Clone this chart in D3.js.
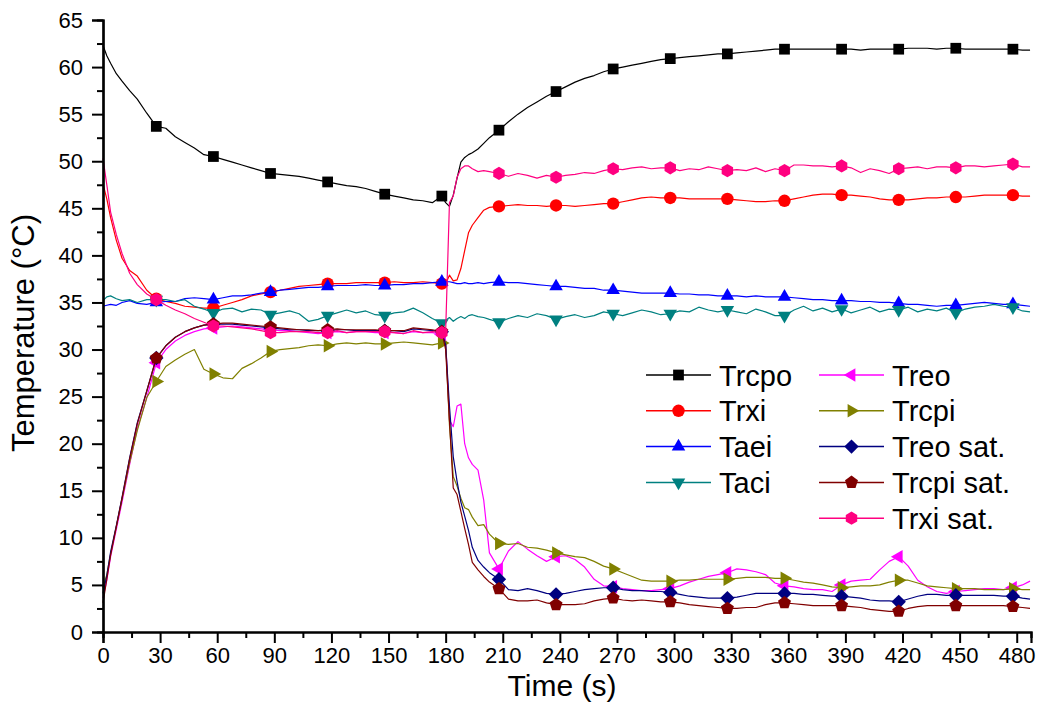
<!DOCTYPE html>
<html><head><meta charset="utf-8">
<script src="https://cdn.jsdelivr.net/npm/d3@7"></script>
<style>
body{margin:0;background:#fff}
svg{display:block}
text{font-family:"Liberation Sans",Arial,Helvetica,sans-serif;fill:#000}
</style>
</head><body>
<svg id="chart" width="1039" height="728"></svg>
<script>
// ---------------- data ----------------
const time = [
  0,2,4,7,10,14,18,23,28,
  33,38,43,48,53,58,63,68,73,78,83,88,93,98,103,108,113,118,123,128,133,138,143,148,153,158,163,168,173,178,
  180,182,184,186,188,190,192,194,197,200,203,
  208,213,218,223,228,233,238,243,248,253,258,263,268,273,278,283,288,293,298,303,
  308,313,318,323,328,333,338,343,348,353,358,363,368,373,378,383,388,393,398,403,
  408,413,418,423,428,433,438,443,448,453,458,463,468,473,478,
  483,487
];
const Trcpo = [
  62.3,61.2,60.4,59.3,58.5,57.5,56.6,55.1,53.7,
  53.5,52.6,52.0,51.4,50.7,50.5,50.2,49.9,49.6,49.3, 49.0,48.7,48.6,48.5,48.4,48.2,48.0,47.8,47.6,47.4, 47.3,47.1,46.8,46.5,46.3,46.1,45.9,45.8,45.6,46.3,
  45.6,45.2,46.4,48.2,49.9,50.4,50.7,50.9,51.3,51.9,52.5,
  53.3,54.2,55.0,55.7,56.3,56.9,57.4,57.9,58.4,58.8, 59.1,59.5,59.8,60.0,60.2,60.4,60.6,60.8,60.9,61.0,
  61.1,61.2,61.3,61.4,61.4,61.5,61.6,61.7,61.8,61.9, 61.9,61.9,61.9,61.9,61.9,61.9,61.9,61.9,61.8,61.9,
  61.9,61.9,61.9,62.0,62.0,62.0,61.9,62.0,62.0,61.9, 61.9,61.9,61.9,61.9,61.9,
  61.8,61.8
];
const Trxi = [
  47.6,46.0,44.0,41.6,39.7,38.4,37.8,36.3,35.4,
  35.1,34.9,34.6,34.5,34.4,34.4,34.7,35.0,35.3,35.7, 35.9,36.1,36.3,36.5,36.7,36.8,36.9,37.0,37.0,37.0, 37.1,37.1,37.1,37.1,37.2,37.1,37.1,37.2,37.1,37.0,
  37.0,37.9,37.3,37.4,38.6,40.5,42.4,43.2,44.0,44.8,45.1,
  45.2,45.3,45.4,45.3,45.3,45.2,45.3,45.3,45.2,45.3, 45.4,45.5,45.5,45.7,45.9,46.1,46.2,46.1,46.1,46.1,
  46.0,46.0,46.0,46.0,46.0,45.9,45.8,45.7,45.7,45.8, 45.8,46.0,46.2,46.4,46.5,46.5,46.4,46.4,46.3,46.2,
  46.0,45.9,45.9,45.9,46.0,46.1,46.1,46.2,46.2,46.2, 46.3,46.4,46.4,46.4,46.4,
  46.3,46.3
];
const Taei = [
  34.6,34.7,34.8,34.7,35.0,35.2,34.9,34.8,35.0,
  35.1,35.1,35.4,35.5,35.4,35.3,35.5,35.7,35.7,35.8, 36.0,36.1,36.3,36.4,36.5,36.6,36.6,36.7,36.8,36.8, 36.8,36.9,36.8,36.8,36.9,36.9,37.0,37.0,37.1,37.2,
  37.2,37.2,37.1,37.0,37.0,37.1,37.0,37.0,37.1,37.0,37.1,
  37.2,37.1,37.1,37.0,36.9,36.8,36.7,36.7,36.6,36.5, 36.5,36.3,36.3,36.2,36.1,36.0,36.0,36.0,36.0,35.9,
  35.9,35.8,35.8,35.7,35.7,35.7,35.6,35.7,35.6,35.6, 35.6,35.5,35.4,35.3,35.3,35.2,35.2,35.2,35.1,35.1,
  35.0,35.0,34.9,34.8,34.8,34.7,34.6,34.7,34.7,34.8, 34.9,35.0,34.9,34.8,34.8,
  34.7,34.6
];
const Taci = [
  35.2,35.6,35.7,35.4,35.2,35.3,35.0,35.3,35.3,
  35.3,35.1,35.3,34.6,34.3,33.9,34.3,34.4,34.0,34.3, 34.2,33.7,33.9,34.1,33.8,33.0,33.2,33.6,33.9,34.2, 33.9,34.1,33.7,33.6,33.9,34.0,34.4,33.9,33.3,32.8,
  33.1,33.4,33.0,33.3,33.5,33.3,33.6,33.7,33.5,33.4,33.2,
  32.9,33.3,33.6,33.4,33.8,33.6,33.2,33.5,33.7,33.4, 33.6,34.0,33.8,33.6,33.9,34.2,34.0,33.7,33.8,34.1,
  34.0,34.5,34.2,34.0,34.2,34.0,33.8,34.3,34.0,33.6, 33.6,34.2,34.6,34.1,34.4,34.0,34.3,33.9,34.2,34.5,
  34.0,34.3,34.2,34.5,34.0,34.3,34.1,34.4,33.9,34.3, 34.5,34.6,34.8,34.6,34.5,
  34.1,34.0
];
const Treo = [
  3.6,5.5,8.0,10.9,13.8,17.8,21.6,24.9,28.6,
  30.0,30.9,31.5,31.9,32.2,32.3,32.4,32.5,32.4,32.3, 32.2,32.1,32.0,32.0,31.9,31.8,31.7,31.8,31.9,31.8, 31.9,31.9,31.8,31.8,31.8,31.7,31.9,31.8,31.8,31.6,
  31.0,22.5,21.8,24.0,24.2,20.0,18.5,17.8,17.2,14.0,8.4,
  6.7,8.6,9.6,8.8,8.1,7.5,8.0,8.1,7.7,6.9, 5.6,4.9,4.8,4.6,4.5,4.4,4.4,4.5,4.6,4.9,
  5.3,5.6,5.9,6.1,6.3,6.7,6.6,6.4,6.1,5.2, 4.9,4.8,4.6,4.5,4.5,4.3,5.0,5.4,5.5,5.6,
  6.6,7.5,8.0,7.0,5.5,4.8,4.3,4.1,4.3,4.4, 4.5,4.6,4.6,4.5,4.7,
  5.0,5.4
];
const Trcpi = [
  4.7,6.1,8.3,11.2,14.1,18.0,21.4,24.9,26.6,
  28.2,28.9,29.5,30.0,27.9,27.4,27.0,26.9,28.0,28.5, 29.1,29.8,30.0,30.1,30.2,30.4,30.5,30.4,30.6,30.7, 30.6,30.7,30.6,30.6,30.7,30.8,30.7,30.6,30.5,30.7,
  30.8,22.0,16.5,15.5,14.2,13.2,13.0,12.2,11.3,11.4,10.4,
  9.4,9.3,9.4,9.0,8.9,8.7,8.4,8.2,8.0,7.9, 7.5,7.0,6.7,6.3,5.9,5.5,5.4,5.4,5.4,5.5,
  5.5,5.6,5.6,5.6,5.6,5.7,5.8,5.8,5.8,5.7, 5.7,5.5,5.3,5.2,5.0,4.8,4.7,4.8,4.9,4.9,
  5.0,5.3,5.5,5.5,5.2,4.9,4.8,4.7,4.6,4.6, 4.6,4.5,4.5,4.5,4.6,
  4.5,4.5
];
const TreoSat = [
  4.1,6.0,8.5,11.3,14.3,18.5,22.2,25.6,29.1,
  30.4,31.3,31.9,32.3,32.6,32.7,32.7,32.7,32.6,32.5, 32.4,32.3,32.2,32.1,32.1,32.0,32.0,32.0,32.1,32.1, 32.0,32.0,32.0,32.0,32.0,31.9,32.2,32.1,32.0,31.9,
  30.5,24.0,18.6,16.0,13.8,12.3,10.8,9.0,7.6,6.9,6.3,
  5.6,4.5,4.4,4.6,4.4,4.1,4.0,4.1,4.3,4.5, 4.6,4.7,4.7,4.5,4.4,4.4,4.3,4.3,4.2,4.0,
  3.8,3.7,3.6,3.6,3.6,3.7,3.9,4.1,4.1,4.1, 4.1,4.1,4.0,4.0,3.9,3.8,3.8,3.7,3.6,3.4,
  3.3,3.3,3.2,3.5,3.8,4.0,4.0,3.9,3.9,3.9, 3.9,3.9,3.9,3.8,3.8,
  3.6,3.5
];
const TrcpiSat = [
  3.1,5.6,8.2,11.2,14.2,18.4,22.1,25.6,29.1,
  30.4,31.3,31.9,32.3,32.6,32.7,32.8,32.8,32.7,32.6, 32.5,32.4,32.3,32.2,32.1,32.1,32.0,32.1,32.2,32.1, 32.1,32.1,32.1,32.0,32.0,32.0,32.3,32.2,32.1,31.9,
  30.0,22.5,15.3,14.6,12.8,11.0,9.3,7.4,6.6,5.9,5.3,
  4.6,3.5,3.3,3.3,3.4,3.1,2.9,2.9,2.9,3.0, 3.3,3.5,3.6,3.4,3.3,3.4,3.3,3.2,3.2,3.1,
  2.9,2.8,2.7,2.6,2.5,2.5,2.6,2.6,2.9,3.1, 3.1,3.0,2.9,2.8,2.8,2.8,2.8,2.7,2.6,2.4,
  2.3,2.2,2.2,2.5,2.7,2.8,2.8,2.8,2.8,2.8, 2.8,2.8,2.8,2.8,2.7,
  2.6,2.5
];
const TrxiSat = [
  50.3,47.5,44.6,42.2,40.2,38.1,36.9,35.9,35.3,
  34.7,34.2,33.8,33.3,32.9,32.5,32.5,32.4,32.3,32.2, 32.0,31.8,31.8,31.9,31.9,31.9,31.8,31.8,32.0,31.8, 31.9,31.9,31.9,31.9,31.8,31.7,32.0,31.8,31.9,31.8,
  31.9,45.6,46.3,48.3,49.2,49.5,49.5,49.2,48.9,49.0,48.9,
  48.7,48.4,48.7,48.5,48.2,48.5,48.3,48.5,48.6,48.8, 48.7,49.0,49.2,49.1,49.3,49.4,49.2,49.3,49.3,49.0,
  49.2,49.1,49.4,49.2,49.0,49.1,49.0,49.3,48.9,49.2, 49.0,49.6,49.6,49.5,49.5,49.4,49.5,49.3,48.8,49.2,
  49.0,48.7,49.2,49.3,49.4,49.2,49.4,49.4,49.3,49.5, 49.5,49.4,49.5,49.6,49.7,
  49.4,49.4
];
const markerTimes = [28,58,88,118,148,178,208,238,268,298,328,358,388,418,448,478];
const xTickLabels = [0,30,60,90,120,150,180,210,240,270,300,330,360,390,420,450,480];
const yTickLabels = [0,5,10,15,20,25,30,35,40,45,50,55,60,65];
const seriesNames = ["Trcpo","Trxi","Taei","Taci","Treo","Trcpi","Treo sat.","Trcpi sat.","Trxi sat."];
const seriesValues = [Trcpo,Trxi,Taei,Taci,Treo,Trcpi,TreoSat,TrcpiSat,TrxiSat];

// ---------------- styles ----------------
function poly(n, rot) {
  return { draw(ctx, r) {
    for (let i = 0; i < n; i++) {
      const a = rot + i * 2 * Math.PI / n;
      const px = r * Math.cos(a), py = r * Math.sin(a);
      if (i === 0) ctx.moveTo(px, py); else ctx.lineTo(px, py);
    }
    ctx.closePath();
  }};
}
const circ = { draw(ctx, r) { ctx.moveTo(r, 0); ctx.arc(0, 0, r, 0, 2 * Math.PI); } };
const styles = [
  {color:"#000000", sym: poly(4, Math.PI/4), r: 7.6},
  {color:"#FF0000", sym: circ, r: 6.2},
  {color:"#0000FF", sym: poly(3, -Math.PI/2), r: 7.8},
  {color:"#008080", sym: poly(3, Math.PI/2), r: 7.8},
  {color:"#FF00FF", sym: poly(3, Math.PI), r: 7.8},
  {color:"#808000", sym: poly(3, 0), r: 7.8},
  {color:"#000080", sym: poly(4, 0), r: 7.2},
  {color:"#800000", sym: poly(5, -Math.PI/2), r: 6.8},
  {color:"#FF0080", sym: poly(6, -Math.PI/2), r: 6.6}
];

// ---------------- chart ----------------
const svg = d3.select("#chart");
const x = d3.scaleLinear().domain([0, 487.5]).range([103, 1031]);
const y = d3.scaleLinear().domain([0, 65]).range([632, 20]);

const line = d3.line().x(d => x(d.t)).y(d => y(d.v));
seriesValues.forEach((vals, i) => {
  const pts = time.map((t, k) => ({t, v: vals[k]}));
  const g = svg.append("g");
  g.append("path").datum(pts).attr("d", line)
    .attr("fill", "none").attr("stroke", styles[i].color).attr("stroke-width", 1.2)
    .attr("stroke-linejoin", "round");
  const mk = pts.filter(p => markerTimes.includes(p.t));
  g.selectAll("path.m").data(mk).join("path").attr("class", "m")
    .attr("transform", d => `translate(${x(d.t)},${y(d.v)})`)
    .attr("d", d3.symbol().type(styles[i].sym).size(styles[i].r))
    .attr("fill", styles[i].color);
});

// axes
const fontTick = 22;
const xMajor = d3.axisBottom(x).tickValues(xTickLabels).tickSize(11).tickPadding(4).tickFormat(d3.format("d"));
const xMinor = d3.axisBottom(x).tickValues(xTickLabels.slice(0, -1).map(v => v + 15)).tickSize(6).tickFormat("");
const yMajor = d3.axisLeft(y).tickValues(yTickLabels).tickSize(11).tickPadding(9).tickFormat(d3.format("d"));
const yMinor = d3.axisLeft(y).tickValues(yTickLabels.slice(0, -1).map(v => v + 2.5)).tickSize(6).tickFormat("");

function styleAxis(g) {
  g.select(".domain").attr("stroke", "#000").attr("stroke-width", 2.2);
  g.selectAll(".tick line").attr("stroke", "#000").attr("stroke-width", 2);
  g.selectAll(".tick text").attr("font-size", fontTick)
    .attr("font-family", "'Liberation Sans', Arial, sans-serif").attr("fill", "#000");
}
svg.append("g").attr("transform", "translate(0,632)").call(xMinor).call(styleAxis);
svg.append("g").attr("transform", "translate(0,632)").call(xMajor).call(styleAxis);
svg.append("g").attr("transform", "translate(103,0)").call(yMinor).call(styleAxis);
svg.append("g").attr("transform", "translate(103,0)").call(yMajor).call(styleAxis);

// axis titles
svg.append("text").attr("x", 562).attr("y", 696).attr("text-anchor", "middle")
  .attr("font-size", 30).text("Time (s)");
svg.append("text").attr("transform", "translate(34,333) rotate(-90)").attr("text-anchor", "middle")
  .attr("font-size", 31).text("Temperature (\u00B0C)");

// legend
const legendCols = [
  {x0: 646, x1: 711, tx: 719, items: [0,1,2,3]},
  {x0: 819, x1: 884, tx: 892, items: [4,5,6,7,8]}
];
const legY0 = 375, legDy = 35.8;
legendCols.forEach(col => {
  col.items.forEach((si, row) => {
    const yy = legY0 + row * legDy;
    const g = svg.append("g");
    g.append("line").attr("x1", col.x0).attr("x2", col.x1).attr("y1", yy).attr("y2", yy)
      .attr("stroke", styles[si].color).attr("stroke-width", 1.5);
    g.append("path").attr("transform", `translate(${(col.x0 + col.x1) / 2},${yy})`)
      .attr("d", d3.symbol().type(styles[si].sym).size(styles[si].r)).attr("fill", styles[si].color);
    g.append("text").attr("x", col.tx).attr("y", yy + 10.5).attr("font-size", 29).text(seriesNames[si]);
  });
});
</script>
</body></html>
